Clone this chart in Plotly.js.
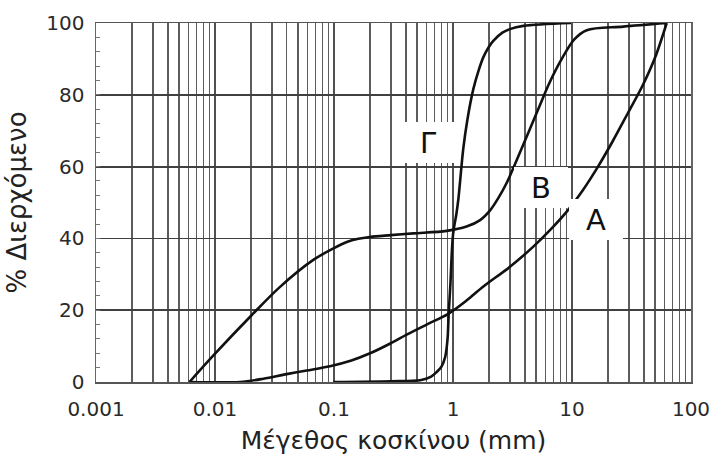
<!DOCTYPE html>
<html>
<head>
<meta charset="utf-8">
<script src="https://cdn.plot.ly/plotly-3.0.1.min.js"></script>
<style>html,body{margin:0;padding:0;background:#fff;}#chart{width:719px;height:474px;}</style>
</head>
<body>
<div id="chart"></div>
<script>
// Sieve size (mm) and % passing
const sizeA = [0.0061, 0.0162, 0.0255, 0.04, 0.059, 0.0925, 0.14, 0.201, 0.3, 0.408, 0.6, 0.913, 1.3, 1.8, 3.01, 4.73, 6.53, 9.0, 12.37, 16.54, 22.1, 29.6, 39.5, 49.8, 62.5];
const passA = [0, 0, 0.9, 2.2, 3.2, 4.4, 6.0, 8.0, 10.8, 13.2, 16.0, 19.0, 22.7, 26.6, 32.1, 37.7, 42.3, 47.4, 53.5, 60.0, 67.2, 75.0, 82.8, 90.3, 100];

const sizeB = [0.0061, 0.0097, 0.0203, 0.0352, 0.067, 0.1, 0.128, 0.16, 0.2, 0.3, 0.465, 0.885, 1.3, 1.69, 2.05, 2.4, 2.83, 3.66, 5.2, 6.5, 8.2, 10.5, 13.3, 27, 62.5];
const passB = [0, 7.4, 18.6, 26.5, 34, 37.3, 39.0, 39.9, 40.4, 40.9, 41.4, 42.1, 43.3, 45.1, 47.8, 51.2, 55.5, 64, 76, 83.5, 90, 95.5, 98, 99, 100];

const sizeG = [0.0986, 0.3, 0.53, 0.65, 0.73, 0.8, 0.86, 0.9, 0.92, 0.95, 1.0, 1.07, 1.11, 1.22, 1.32, 1.48, 1.65, 1.8, 2.0, 2.18, 2.6, 3.0, 3.9, 9.8];
const passG = [0, 0.2, 0.5, 1.4, 2.8, 4.3, 7, 12, 19, 27, 41, 47, 51, 65, 73, 81.5, 87, 90.5, 93.3, 95, 97.3, 98.3, 99.2, 100];

const xTickVals = [0.001, 0.01, 0.1, 1, 10, 100];
const xTickText = ['0.001', '0.01', '0.1', '1', '10', '100'];
const yTickVals = [0, 20, 40, 60, 80, 100];

const curveLabels = ['Γ', 'B', 'A'];
const labelX = [0.617, 5.44, 15.9];   // mm
const labelY = [66.6, 54.2, 45.4];    // %

const FONT = 'DejaVu Sans, Verdana, sans-serif';
const lineStyle = {color: '#111111', width: 2.6, shape: 'spline', smoothing: 0.9};

const traces = [
  {x: sizeA, y: passA, name: 'A', mode: 'lines', line: lineStyle},
  {x: sizeB, y: passB, name: 'B', mode: 'lines', line: lineStyle},
  {x: sizeG, y: passG, name: 'Γ', mode: 'lines', line: lineStyle}
];

const annotations = curveLabels.map((t, i) => ({
  x: Math.log10(labelX[i]), y: labelY[i], xref: 'x', yref: 'y',
  text: t, showarrow: false, bgcolor: '#ffffff',
  width: 54, height: 41, borderpad: 0, borderwidth: 0,
  font: {family: FONT, size: 29, color: '#111111'}
}));

const layout = {
  width: 719, height: 474,
  margin: {l: 96, r: 28, t: 23, b: 92},
  paper_bgcolor: '#ffffff', plot_bgcolor: '#ffffff',
  showlegend: false,
  xaxis: {
    type: 'log', range: [-3, 2],
    tickvals: xTickVals, ticktext: xTickText,
    ticks: '', ticklabelstandoff: 8,
    tickfont: {family: FONT, size: 20, color: '#2a2a2a'},
    showgrid: true, gridcolor: '#505050', gridwidth: 1.8,
    minor: {dtick: 'D1', showgrid: true, gridcolor: '#5c5c5c', gridwidth: 1.7, ticks: ''},
    showline: true, linecolor: '#555555', linewidth: 1.5, mirror: true,
    zeroline: false,
    title: {text: 'Μέγεθος κοσκίνου (mm)', font: {family: FONT, size: 25, color: '#222222'}, standoff: 12}
  },
  yaxis: {
    range: [0, 100], tickvals: yTickVals,
    ticks: 'inside', ticklen: 4, tickcolor: '#777777',
    tickfont: {family: FONT, size: 20, color: '#2a2a2a'},
    ticklabelstandoff: 6,
    showgrid: true, gridcolor: '#404040', gridwidth: 1.8,
    minor: {dtick: 4, ticks: 'inside', ticklen: 4, tickcolor: '#777777', showgrid: false},
    showline: true, linecolor: '#666666', linewidth: 1.5, mirror: true,
    zeroline: false,
    title: {text: '% Διερχόμενο', font: {family: FONT, size: 26, color: '#222222'}, standoff: 12}
  },
  annotations: annotations
};

Plotly.newPlot('chart', traces, layout, {displayModeBar: false, staticPlot: true});
</script>
</body>
</html>
